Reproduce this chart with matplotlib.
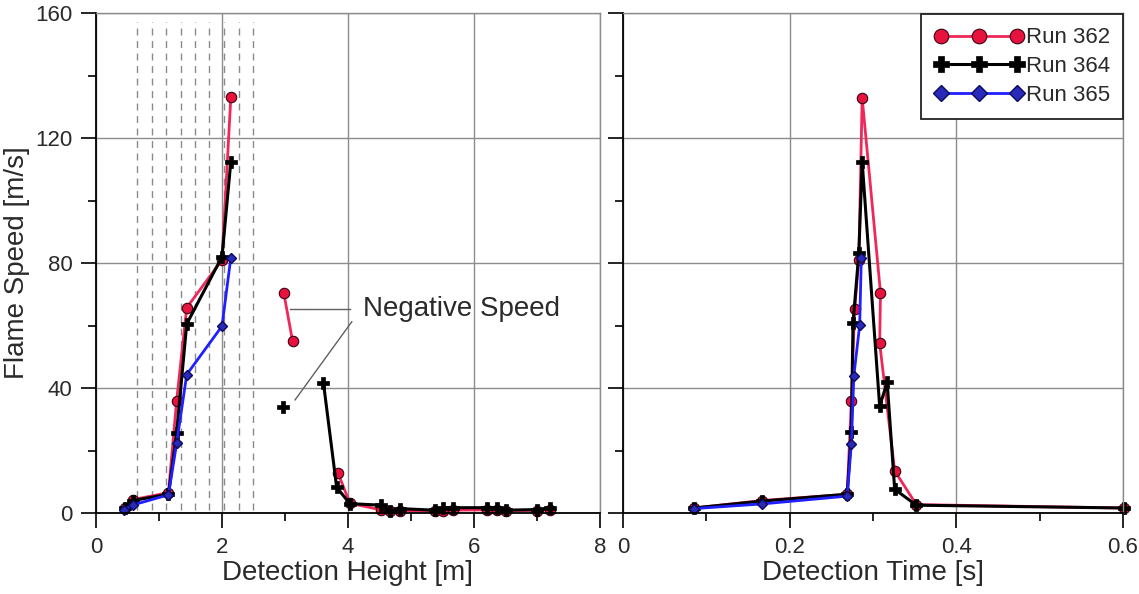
import numpy as np
import matplotlib
matplotlib.use("Agg")
import matplotlib.pyplot as plt
from matplotlib.ticker import MultipleLocator

plt.rcParams['font.family'] = ['Liberation Sans', 'DejaVu Sans']

nan = np.nan

# left panel: speed vs detection height (nan = break in line)
h362 = [0.46, 0.59, 1.15, 1.28, 1.44, 2.00, 2.14, nan, 2.98, 3.12, nan, 3.84, 4.03,
        4.53, 4.66, 4.83, 5.38, 5.51, 5.66, 6.20, 6.36, 6.51, 7.00, 7.21]
v362 = [1.5, 4.3, 6.5, 36.0, 65.7, 81.0, 133.0, nan, 70.5, 55.0, nan, 12.9, 3.1,
        1.0, 0.5, 0.8, 0.5, 0.8, 0.9, 1.0, 1.0, 0.8, 0.8, 1.0]
h364 = [0.46, 0.59, 1.15, 1.28, 1.44, 2.00, 2.14, nan, 2.97, nan, 3.61, 3.82, 4.03,
        4.53, 4.66, 4.83, 5.38, 5.51, 5.66, 6.20, 6.36, 6.51, 7.00, 7.21]
v364 = [1.5, 4.0, 6.0, 25.7, 60.5, 82.0, 112.4, nan, 34.0, nan, 41.7, 8.2, 3.0,
        2.5, 0.6, 1.4, 0.9, 1.7, 1.7, 1.7, 1.7, 0.9, 1.1, 1.7]
h365 = [0.44, 0.59, 1.15, 1.28, 1.44, 2.00, 2.14]
v365 = [1.0, 2.6, 5.8, 22.3, 44.3, 59.8, 81.7]

# dashed sensor positions
sensors = [0.656, 0.884, 1.116, 1.345, 1.576, 1.799, 2.03, 2.265, 2.497]

# right panel: speed vs detection time
t362 = [0.085, 0.167, 0.269, 0.274, 0.278, 0.283, 0.287, 0.309, 0.308, 0.326, 0.352, 0.601]
s362 = [1.6, 4.0, 6.0, 35.8, 65.3, 80.9, 132.9, 70.4, 54.4, 13.5, 2.7, 1.6]
t364 = [0.085, 0.167, 0.269, 0.274, 0.276, 0.283, 0.287, 0.308, 0.317, 0.326, 0.352, 0.601]
s364 = [1.6, 3.8, 6.0, 25.8, 60.7, 83.2, 112.4, 34.1, 41.9, 7.6, 2.5, 1.6]
t365 = [0.085, 0.167, 0.269, 0.274, 0.277, 0.284, 0.286]
s365 = [1.4, 2.9, 5.4, 22.0, 43.9, 60.1, 81.6]

red = dict(color='#F0285A', lw=2, marker='o', ms=7.5, mfc='#E8123F', mec='#3a0010', mew=0.8)
blk = dict(color='black', lw=2.2, marker='P', ms=8, mfc='black', mec='black', mew=0.5)
blu = dict(color='#1F1FFF', lw=2, marker='D', ms=5.5, mfc='#2a2ab8', mec='#0a0a60', mew=1)

gridc = '#8c8c8c'
txtc = '#2a2a2a'

fig = plt.figure(figsize=(11.39, 5.94), dpi=100)
ax1 = fig.add_axes([96/1139, 81/594, 504/1139, 500/594])
ax2 = fig.add_axes([623/1139, 81/594, 500/1139, 500/594])


def style(ax):
    ax.set_ylim(0, 160)
    ax.yaxis.set_major_locator(MultipleLocator(40))
    ax.yaxis.set_minor_locator(MultipleLocator(20))
    ax.grid(True, which='major', color=gridc, lw=1)
    ax.set_axisbelow(True)
    for s in ['top', 'right']:
        ax.spines[s].set_color(gridc)
        ax.spines[s].set_linewidth(1)
    for s in ['left', 'bottom']:
        ax.spines[s].set_linewidth(1.3)
    ax.tick_params(which='major', direction='out', length=11, width=1.2,
                   labelsize=16, labelcolor=txtc, pad=6)
    ax.tick_params(which='minor', direction='out', length=6, width=1.2)
    ax.tick_params(top=False, right=False, which='both')


style(ax1)
ax1.set_xlim(0, 8)
ax1.xaxis.set_major_locator(MultipleLocator(2))
ax1.xaxis.set_minor_locator(MultipleLocator(1))
ax1.vlines(sensors, 1, 157, colors='#8a8a8a', lw=1, linestyles=(0, (5, 4)), zorder=1)
ax1.plot(h362, v362, clip_on=False, **red)
ax1.plot(h364, v364, clip_on=False, **blk)
ax1.plot(h365, v365, clip_on=False, **blu)
ax1.set_xlabel('Detection Height [m]', fontsize=20, color=txtc, labelpad=2)
ax1.set_ylabel('Flame Speed [m/s]', fontsize=20, color=txtc, labelpad=4)

# annotation for negative speed points
ax1.plot([3.08, 4.03], [65.3, 65.3], color='#606060', lw=1)
ax1.plot([3.16, 4.06], [36.2, 61.2], color='#606060', lw=1)
ax1.text(4.24, 65.3, 'Negative Speed', fontsize=20, color=txtc, va='center', ha='left')

style(ax2)
ax2.set_xlim(0, 0.6)
ax2.set_xticks([0, 0.2, 0.4, 0.6])
ax2.set_xticklabels(['0', '0.2', '0.4', '0.6'])
ax2.xaxis.set_minor_locator(MultipleLocator(0.1))
ax2.tick_params(labelleft=False)
ax2.plot(t362, s362, label='Run 362', clip_on=False, **red)
ax2.plot(t364, s364, label='Run 364', clip_on=False, **blk)
ax2.plot(t365, s365, label='Run 365', clip_on=False, **blu)
ax2.set_xlabel('Detection Time [s]', fontsize=20, color=txtc, labelpad=2)

leg = ax2.legend(loc='upper right', bbox_to_anchor=(1.0, 0.998), borderaxespad=0,
                 fontsize=16, numpoints=3, handlelength=4.0, handletextpad=0.1,
                 labelspacing=0.35, borderpad=0.6, fancybox=False, framealpha=1,
                 edgecolor='#222222', markerscale=1.4)
leg.get_frame().set_linewidth(1.3)
for t in leg.get_texts():
    t.set_color(txtc)

fig.savefig('out.png', dpi=100)
